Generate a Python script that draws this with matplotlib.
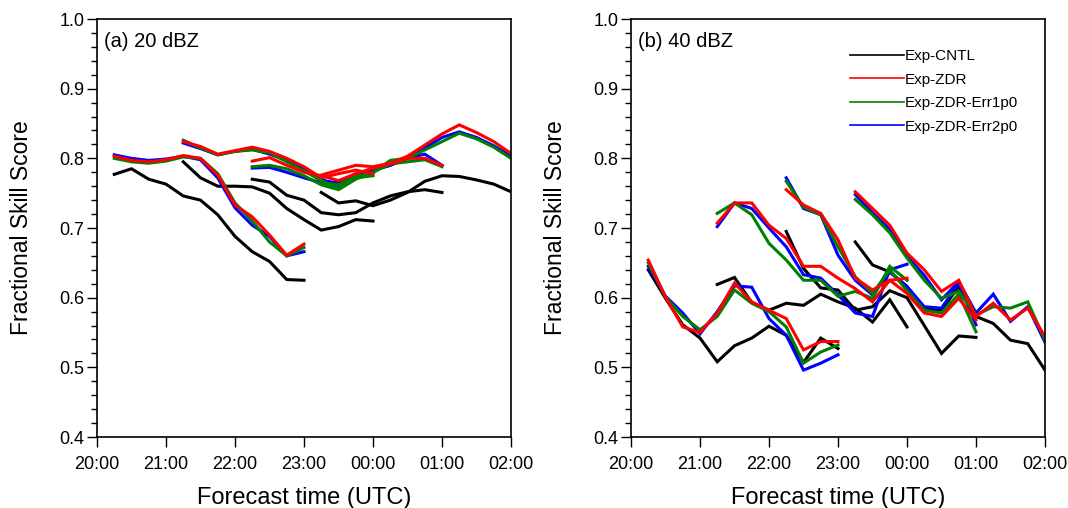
import numpy as np
import matplotlib
matplotlib.use('Agg')
from matplotlib import pyplot as plt
from matplotlib.lines import Line2D

plt.rcParams['font.family'] = ['Liberation Sans', 'DejaVu Sans']

# forecast segments start at 20:15, 21:15, 22:15, 23:15 (hours after 20:00), 15-min output
seg_start = [0.25, 1.25, 2.25, 3.25]
tick_pos = [0, 1, 2, 3, 4, 5, 6]
tick_lab = ['20:00', '21:00', '22:00', '23:00', '00:00', '01:00', '02:00']
names = ['Exp-CNTL', 'Exp-ZDR', 'Exp-ZDR-Err1p0', 'Exp-ZDR-Err2p0']
colors = ['black', 'red', 'green', 'blue']

# (a) 20 dBZ
a_cntl = [
    [0.777, 0.785, 0.770, 0.763, 0.746, 0.740, 0.719, 0.688, 0.666, 0.652, 0.626, 0.625],
    [0.795, 0.772, 0.760, 0.760, 0.759, 0.750, 0.728, 0.712, 0.697, 0.702, 0.712, 0.710],
    [0.770, 0.766, 0.747, 0.740, 0.722, 0.719, 0.722, 0.736, 0.746, 0.752, 0.755, 0.751],
    [0.751, 0.736, 0.739, 0.732, 0.740, 0.751, 0.767, 0.775, 0.774, 0.769, 0.763, 0.752],
]
a_zdr = [
    [0.803, 0.797, 0.795, 0.798, 0.804, 0.800, 0.776, 0.733, 0.716, 0.690, 0.661, 0.677],
    [0.824, 0.817, 0.806, 0.811, 0.816, 0.810, 0.800, 0.788, 0.772, 0.778, 0.783, 0.778],
    [0.796, 0.801, 0.790, 0.780, 0.775, 0.768, 0.778, 0.786, 0.792, 0.800, 0.800, 0.790],
    [0.776, 0.783, 0.790, 0.788, 0.793, 0.803, 0.819, 0.835, 0.848, 0.837, 0.824, 0.807],
]
a_err1 = [
    [0.800, 0.795, 0.793, 0.796, 0.802, 0.800, 0.778, 0.736, 0.710, 0.680, 0.660, 0.672],
    [0.826, 0.815, 0.805, 0.810, 0.812, 0.808, 0.795, 0.782, 0.768, 0.757, 0.772, 0.775],
    [0.788, 0.790, 0.785, 0.775, 0.762, 0.755, 0.770, 0.780, 0.792, 0.795, 0.798, 0.788],
    [0.765, 0.762, 0.774, 0.779, 0.797, 0.800, 0.812, 0.824, 0.836, 0.828, 0.816, 0.800],
]
a_err2 = [
    [0.805, 0.800, 0.797, 0.799, 0.803, 0.798, 0.772, 0.729, 0.704, 0.688, 0.660, 0.666],
    [0.822, 0.814, 0.805, 0.810, 0.813, 0.806, 0.797, 0.785, 0.770, 0.760, 0.777, 0.780],
    [0.786, 0.787, 0.780, 0.772, 0.765, 0.756, 0.775, 0.783, 0.790, 0.800, 0.806, 0.790],
    [0.768, 0.765, 0.778, 0.783, 0.790, 0.800, 0.815, 0.830, 0.838, 0.830, 0.818, 0.803],
]

# (b) 40 dBZ
b_cntl = [
    [0.640, 0.599, 0.561, 0.542, 0.508, 0.531, 0.542, 0.559, 0.546, 0.507, 0.542, 0.527],
    [0.619, 0.629, 0.593, 0.582, 0.592, 0.589, 0.605, 0.594, 0.585, 0.565, 0.597, 0.558],
    [0.695, 0.642, 0.614, 0.611, 0.582, 0.587, 0.610, 0.600, 0.560, 0.520, 0.545, 0.543],
    [0.680, 0.647, 0.637, 0.616, 0.585, 0.582, 0.616, 0.573, 0.563, 0.539, 0.534, 0.496],
]
b_zdr = [
    [0.654, 0.601, 0.558, 0.550, 0.578, 0.621, 0.594, 0.582, 0.570, 0.525, 0.537, 0.537],
    [0.707, 0.736, 0.736, 0.704, 0.685, 0.645, 0.645, 0.628, 0.613, 0.594, 0.625, 0.628],
    [0.755, 0.733, 0.721, 0.683, 0.628, 0.611, 0.625, 0.606, 0.578, 0.573, 0.599, 0.568],
    [0.752, 0.728, 0.704, 0.664, 0.640, 0.609, 0.625, 0.573, 0.592, 0.568, 0.585, 0.544],
]
b_err1 = [
    [0.650, 0.601, 0.573, 0.554, 0.573, 0.611, 0.592, 0.580, 0.558, 0.506, 0.522, 0.532],
    [0.721, 0.736, 0.719, 0.678, 0.654, 0.625, 0.625, 0.602, 0.609, 0.599, 0.645, 0.625],
    [0.767, 0.730, 0.719, 0.673, 0.630, 0.606, 0.640, 0.610, 0.582, 0.578, 0.605, 0.551],
    [0.741, 0.719, 0.693, 0.657, 0.625, 0.599, 0.609, 0.575, 0.587, 0.585, 0.594, 0.539],
]
b_err2 = [
    [0.645, 0.602, 0.578, 0.548, 0.580, 0.617, 0.615, 0.570, 0.546, 0.496, 0.506, 0.518],
    [0.702, 0.736, 0.728, 0.700, 0.673, 0.633, 0.628, 0.604, 0.578, 0.573, 0.640, 0.648],
    [0.772, 0.728, 0.719, 0.661, 0.625, 0.604, 0.637, 0.616, 0.587, 0.585, 0.621, 0.561],
    [0.748, 0.722, 0.698, 0.660, 0.632, 0.597, 0.623, 0.578, 0.605, 0.566, 0.587, 0.536],
]

panels = [
    ('(a) 20 dBZ', [a_cntl, a_zdr, a_err1, a_err2]),
    ('(b) 40 dBZ', [b_cntl, b_zdr, b_err1, b_err2]),
]

fig = plt.figure(figsize=(10.68, 5.08), dpi=100)
ax_left = [97 / 1068, 631 / 1068]

for p, (title, exps) in enumerate(panels):
    ax = fig.add_axes([ax_left[p], 71 / 508, 414 / 1068, 418 / 508])
    # draw CNTL first, then Err2p0, Err1p0, ZDR on top
    for e in [0, 3, 2, 1]:
        for k, s in enumerate(seg_start):
            vals = exps[e][k]
            t = s + 0.25 * np.arange(len(vals))
            ax.plot(t, vals, color=colors[e], lw=2.2, solid_joinstyle='miter')
    ax.set_xlim(0, 6)
    ax.set_ylim(0.4, 1.0)
    ax.set_xticks(tick_pos)
    ax.set_xticklabels(tick_lab)
    ax.set_yticks(np.arange(0.4, 1.01, 0.1))
    ax.set_yticks(np.arange(0.4, 1.001, 0.02), minor=True)
    ax.yaxis.set_major_formatter(matplotlib.ticker.FormatStrFormatter('%.1f'))
    ax.tick_params(axis='both', which='major', direction='out', length=7, width=1,
                   labelsize=13)
    ax.tick_params(axis='x', which='major', pad=7)
    ax.tick_params(axis='y', which='major', pad=2)
    ax.tick_params(axis='y', which='minor', direction='out', length=4, width=1)
    ax.tick_params(top=False, right=False)
    for sp in ax.spines.values():
        sp.set_linewidth(1.2)
    ax.set_xlabel('Forecast time (UTC)', fontsize=17, labelpad=10)
    ax.set_ylabel('Fractional Skill Score', fontsize=16.5, labelpad=19)
    ax.text(0.018, 0.97, title, transform=ax.transAxes, fontsize=14.5, va='top', ha='left')
    if p == 1:
        handles = [Line2D([], [], color=c, lw=1.2) for c in colors]
        ax.legend(handles, names, loc='upper left', bbox_to_anchor=(0.53, 0.928),
                  frameon=False, fontsize=11, handlelength=3.5, handletextpad=0.05,
                  labelspacing=0.62, borderaxespad=0, borderpad=0)

fig.savefig('out.png', dpi=100)
